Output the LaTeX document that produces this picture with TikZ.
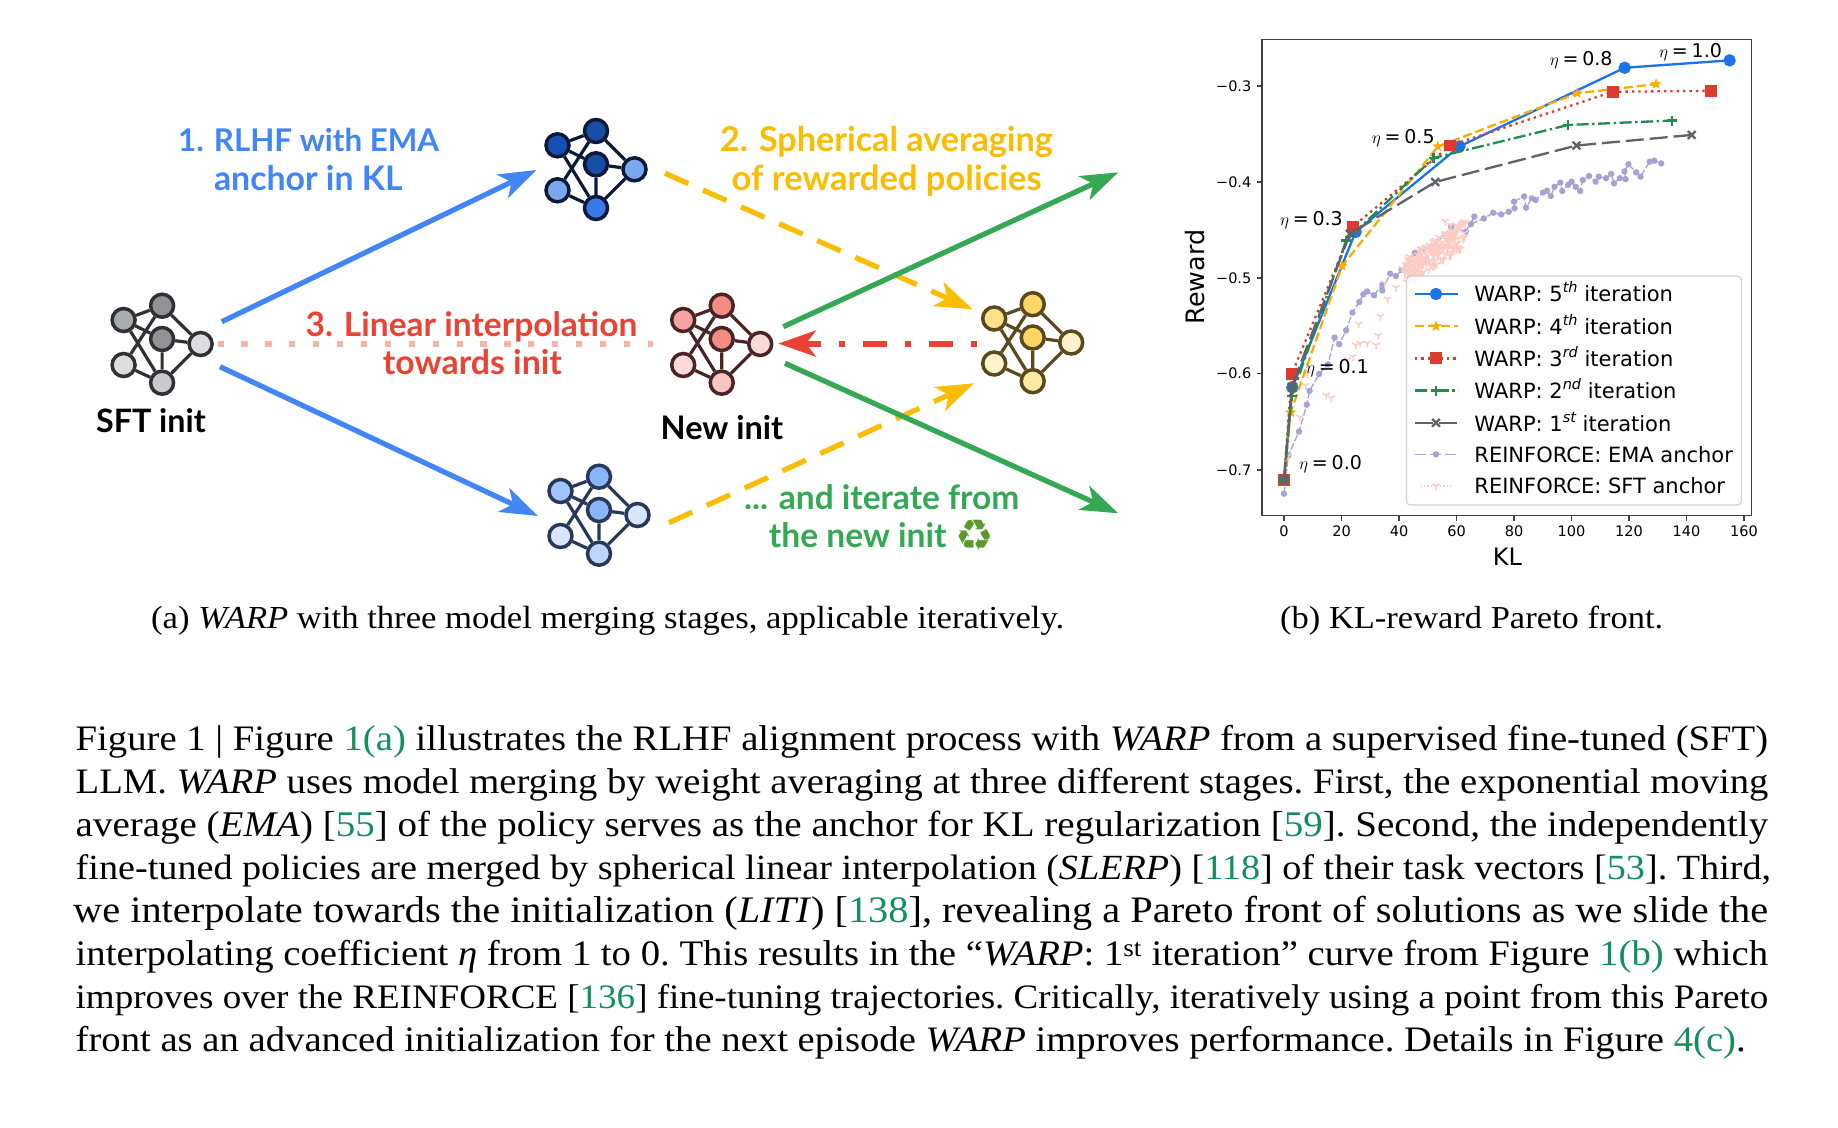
\documentclass[tikz,border=0pt]{standalone}
\usepackage{fontspec}
\usepackage{graphicx}
\usetikzlibrary{arrows.meta,plotmarks}
\setmainfont{Liberation Serif}[FakeStretch=1.08]
\newfontfamily\labelfont{Lato}[UprightFont=* Bold]
\newfontfamily\plotfont{DejaVu Sans}
\newfontfamily\recyclefont{DejaVu Sans}

\definecolor{gblue}{HTML}{4285F4}
\definecolor{gred}{HTML}{EA4335}
\definecolor{gyellow}{HTML}{FBBC04}
\definecolor{ggreen}{HTML}{34A853}
\definecolor{gpink}{HTML}{F7B2AD}
\definecolor{recyclegreen}{HTML}{5A9A2B}
\definecolor{citegreen}{HTML}{12905A}
\definecolor{curvefive}{HTML}{1A73E8}
\definecolor{curvefour}{HTML}{F9AB00}
\definecolor{curvethree}{HTML}{DD3B30}
\definecolor{curvetwo}{HTML}{1E8E4E}
\definecolor{curveone}{HTML}{5F6368}
\definecolor{emacurve}{HTML}{A5A3D6}
\definecolor{sftcurve}{HTML}{FBCBC4}

% network palettes: outline, then the four unit tints
\definecolor{sftS}{HTML}{303134}\definecolor{sftA}{HTML}{A9ABAE}\definecolor{sftB}{HTML}{909396}\definecolor{sftC}{HTML}{DCDDDF}\definecolor{sftD}{HTML}{C9CACD}
\definecolor{emaS}{HTML}{0C1A38}\definecolor{emaA}{HTML}{1550B5}\definecolor{emaB}{HTML}{174EA6}\definecolor{emaC}{HTML}{7BA7EF}\definecolor{emaD}{HTML}{3B78E7}
\definecolor{polS}{HTML}{28385A}\definecolor{polA}{HTML}{A3C4FB}\definecolor{polB}{HTML}{8AB4F8}\definecolor{polC}{HTML}{D7E6FD}\definecolor{polD}{HTML}{BDD4FB}
\definecolor{newS}{HTML}{4A2325}\definecolor{newA}{HTML}{F4A5A1}\definecolor{newB}{HTML}{F28B82}\definecolor{newC}{HTML}{FAD9D6}\definecolor{newD}{HTML}{F9C5C1}
\definecolor{avgS}{HTML}{5A4A1B}\definecolor{avgA}{HTML}{FDE08A}\definecolor{avgB}{HTML}{FDD663}\definecolor{avgC}{HTML}{FEF2CD}\definecolor{avgD}{HTML}{FEE8A8}

\pgfdeclareplotmark{fstar}{%
  \pgfpathmoveto{\pgfpointpolar{90}{\pgfplotmarksize}}%
  \pgfpathlineto{\pgfpointpolar{126}{.42\pgfplotmarksize}}%
  \pgfpathlineto{\pgfpointpolar{162}{\pgfplotmarksize}}%
  \pgfpathlineto{\pgfpointpolar{198}{.42\pgfplotmarksize}}%
  \pgfpathlineto{\pgfpointpolar{234}{\pgfplotmarksize}}%
  \pgfpathlineto{\pgfpointpolar{270}{.42\pgfplotmarksize}}%
  \pgfpathlineto{\pgfpointpolar{306}{\pgfplotmarksize}}%
  \pgfpathlineto{\pgfpointpolar{342}{.42\pgfplotmarksize}}%
  \pgfpathlineto{\pgfpointpolar{18}{\pgfplotmarksize}}%
  \pgfpathlineto{\pgfpointpolar{54}{.42\pgfplotmarksize}}%
  \pgfpathclose\pgfusepathqfillstroke}

\tikzset{
  neuron/.style={circle,inner sep=0pt,minimum size=23pt,line width=3.5pt},
  synapse/.style={line width=3.2pt},
  flow/.style={line width=5.2pt,-{Stealth[length=37.5pt,width=26pt,inset=10pt]}},
  stagelabel/.style={anchor=base,inner sep=0pt,font=\labelfont\fontsize{32}{36}\selectfont},
  capline/.style={anchor=base west,inner sep=0pt,font=\fontsize{36.5}{43}\selectfont\frenchspacing},
  subcap/.style={anchor=base west,inner sep=0pt,font=\fontsize{33}{40}\selectfont\frenchspacing},
  ticktext/.style={inner sep=0pt,font=\plotfont\fontsize{14.5}{16}\selectfont},
  etatext/.style={anchor=base west,inner sep=0pt,font=\plotfont\fontsize{19}{22}\selectfont},
  legtext/.style={anchor=base west,inner sep=0pt,font=\plotfont\fontsize{21}{24}\selectfont},
  axistext/.style={inner sep=0pt,font=\plotfont\fontsize{24}{26}\selectfont},
  curveA/.style={curvefive,line width=2.3pt,mark=*,mark size=5pt,mark options={solid,fill=curvefive}},
  curveB/.style={curvefour,line width=2.3pt,dash pattern=on 9pt off 4pt,mark=fstar,mark size=5.2pt,mark options={solid,fill=curvefour,line width=.4pt}},
  curveC/.style={curvethree,line width=2.3pt,dash pattern=on 2.4pt off 4pt,mark=square*,mark size=4.8pt,mark options={solid,fill=curvethree}},
  curveD/.style={curvetwo,line width=2.3pt,dash pattern=on 12pt off 3.5pt on 2.5pt off 3.5pt,mark=+,mark size=5pt,mark options={solid}},
  curveE/.style={curveone,line width=2.3pt,dash pattern=on 18pt off 6pt,mark=x,mark size=5.5pt,mark options={solid}},
  curveF/.style={emacurve,line width=1.3pt,dash pattern=on 7pt off 2pt,mark=*,mark size=2.5pt,mark options={solid,fill=emacurve}},
  curveG/.style={sftcurve,line width=1.2pt,mark=Mercedes star flipped,mark size=4.2pt,mark options={solid,line width=1.5pt}},
}

% six-unit network: name, centre, outline colour, unit fills
\newcommand{\neuralnet}[8]{%
  \begin{scope}[shift={(#2,#3)}]
    \node[neuron,draw=#4,fill=#5] (#1lu) at (-38.5,-19) {};
    \node[neuron,draw=#4,fill=#6] (#1top) at (0,-33.3) {};
    \node[neuron,draw=#4,fill=#6] (#1mid) at (0,0) {};
    \node[neuron,draw=#4,fill=#7] (#1r) at (38.5,5) {};
    \node[neuron,draw=#4,fill=#7] (#1ll) at (-38.5,26) {};
    \node[neuron,draw=#4,fill=#8] (#1bot) at (0,43.7) {};
    \draw[synapse,#4] (#1lu)--(#1top) (#1lu)--(#1mid) (#1lu)--(#1bot)
      (#1top)--(#1ll) (#1top)--(#1r) (#1mid)--(#1r) (#1mid)--(#1bot)
      (#1bot)--(#1r) (#1ll)--(#1bot);
  \end{scope}}
\newcommand{\fitw}[2]{\resizebox{#1pt}{!}{#2}}
\newcommand{\refc}[1]{\textcolor{citegreen}{#1}}
\newcommand{\upth}[1]{\raisebox{.42em}{\fontsize{14.5}{15}\selectfont\itshape #1}}
\newcommand{\etaeq}[1]{$\eta$\kern.2em=\kern.2em#1}

\begin{document}
\begin{tikzpicture}[x=1pt,y=-1pt]
\useasboundingbox (0,0) rectangle (1838,1127);
\fill[white] (0,0) rectangle (1838,1127);

% networks
\neuralnet{sft}{162.1}{339}{sftS}{sftA}{sftB}{sftC}{sftD}
\neuralnet{ema}{596}{164.3}{emaS}{emaA}{emaB}{emaC}{emaD}
\neuralnet{pol}{599}{510}{polS}{polA}{polB}{polC}{polD}
\neuralnet{new}{721.7}{339}{newS}{newA}{newB}{newC}{newD}
\neuralnet{avg}{1032.7}{337.5}{avgS}{avgA}{avgB}{avgC}{avgD}

% connector end points
\coordinate (up1s) at (221.8,321.7);  \coordinate (up1e) at (536.4,170);
\coordinate (dn1s) at (220,366.7);    \coordinate (dn1e) at (537.9,516);
\coordinate (up2s) at (665,173.3);    \coordinate (up2e) at (972.7,309.3);
\coordinate (dn2s) at (669,522.7);    \coordinate (dn2e) at (974,383.3);
\coordinate (lin1s) at (217.5,344.3); \coordinate (lin1e) at (653.3,344.3);
\coordinate (lin2s) at (976.7,343.6); \coordinate (lin2e) at (778.3,343.6);
\coordinate (up3s) at (783.3,326.7);  \coordinate (up3e) at (1118.3,172.3);
\coordinate (dn3s) at (785,363.3);    \coordinate (dn3e) at (1118.3,513.3);

\draw[gpink,line width=6.2pt,dash pattern=on 6.2pt off 17.7pt] (lin1s)--(lin1e);
\draw[flow,gblue] (up1s)--(up1e);
\draw[flow,gblue] (dn1s)--(dn1e);
\draw[flow,gyellow,dash pattern=on 25.6pt off 16pt] (up2s)--(up2e);
\draw[flow,gyellow,dash pattern=on 25.6pt off 16pt] (dn2s)--(dn2e);
\draw[flow,gred,line width=6pt,dash pattern=on 6pt off 18pt on 24pt off 17.7pt] (lin2s)--(lin2e);
\draw[flow,ggreen] (up3s)--(up3e);
\draw[flow,ggreen] (dn3s)--(dn3e);

% stage labels
\node[stagelabel,gblue] (t1a) at (308.6,151.5) {\fitw{260.8}{1. RLHF with EMA}};
\node[stagelabel,gblue] (t1b) at (308.3,190) {\fitw{188.5}{anchor in KL}};
\node[stagelabel,gyellow] (t2a) at (886.4,151.5) {\fitw{332.7}{2. Spherical averaging}};
\node[stagelabel,gyellow] (t2b) at (886.7,190) {\fitw{310}{of rewarded policies}};
\node[stagelabel,gred] (t3a) at (471.5,336.5) {\fitw{331.6}{3. Linear interpolation}};
\node[stagelabel,gred] (t3b) at (472.5,374.5) {\fitw{179}{towards init}};
\node[stagelabel,ggreen] (t4a) at (881.7,509) {\fitw{275.3}{... and iterate from}};
\node[stagelabel,ggreen] (t4b) at (857.8,547) {\fitw{177.7}{the new init}};
\node[inner sep=0pt,text=recyclegreen] (t4c) at (975.2,535.5) {\recyclefont\fontsize{43}{43}\selectfont ♻};
\node[stagelabel,black] (tsft) at (150.9,432.5) {\fitw{109.7}{SFT init}};
\node[stagelabel,black] (tnew) at (722,439) {\fitw{122.6}{New init}};

% KL-reward axes: data coordinates are (KL, reward)
\begin{scope}[shift={(1284,-202)},x=2.875pt,y=960pt]
  \draw[curveF] plot coordinates {(0,-.7247)(1.5,-.685)(5.2,-.66)(7.9,-.632)(8.9,-.6175)(12.2,-.6)(15.3,-.59)(17.6,-.562)(19.2,-.569)(21.6,-.5545)(23.8,-.536)(26.2,-.525)(27.6,-.517)(28.9,-.514)(31.3,-.518)(34.2,-.507)(34.2,-.513)(36.9,-.4955)(38.9,-.498)(40.9,-.4917)(45.5,-.474)(52.2,-.467)(58.2,-.4465)(63.2,-.4517)(66.2,-.436)(65,-.444)(69.5,-.438)(72.8,-.432)(75.5,-.4337)(78.2,-.431)(80.2,-.4274)(80,-.4205)(83.5,-.415)(84.2,-.4267)(86.2,-.417)(87.5,-.4188)(90.1,-.411)(91.5,-.409)(92.8,-.4146)(94.1,-.405)(96.1,-.4007)(96.8,-.4094)(98.8,-.403)(100,-.3997)(101.5,-.405)(103,-.4094)(103.9,-.398)(106.1,-.3938)(108.4,-.3997)(109.5,-.3944)(112,-.396)(113.8,-.3917)(114.8,-.4014)(116.8,-.396)(118.8,-.397)(118.4,-.389)(119.8,-.3816)(122.5,-.39)(124,-.3944)(127.2,-.3788)(128.8,-.3778)(131.2,-.3806)};
  \pgfmathsetseed{412}
  \foreach \i in {1,...,170}{
    \pgfmathsetmacro\kk{42+21*rnd}
    \pgfmathsetmacro\rr{-0.512+(\kk-40)*0.0019+0.028*rnd}
    \draw[curveG,only marks] plot coordinates {(\kk,\rr)};
  }
  \draw[curveG,only marks] plot coordinates {(1.5,-.685)(5.5,-.645)(7.6,-.612)(8,-.6)(14.7,-.622)(16.5,-.625)(22,-.585)(24,-.582)(25,-.57)(26,-.548)(26.5,-.568)(29,-.568)(32,-.57)(33.5,-.54)(32.8,-.56)(36,-.522)(35,-.505)(39,-.51)(41,-.49)(44,-.497)(56,-.441)(58,-.445)};

  \draw[curveA] plot coordinates {(0,-.71)(2.9,-.614)(24.9,-.452)(61,-.363)(118.5,-.281)(155,-.2733)};
  \draw[curveB] plot coordinates {(0,-.71)(2.3,-.64)(20.2,-.4875)(53.5,-.363)(102,-.3076)(129.4,-.298)};
  \draw[curveC] plot coordinates {(0,-.71)(2.7,-.6)(24,-.4465)(57.8,-.362)(114.4,-.306)(148.5,-.305)};
  \draw[curveD] plot coordinates {(0,-.71)(2.7,-.623)(21.6,-.461)(52,-.375)(98.8,-.3406)(135,-.336)};
  \draw[curveE] plot coordinates {(0,-.71)(2.7,-.6135)(22.9,-.454)(52.6,-.4)(101.7,-.362)(141.8,-.351)};
\end{scope}

% frame and ticks
\draw[black!75,line width=1.5pt] (1261.8,39.3) rectangle (1751.7,515.7);
\foreach \v/\lab in {0/0,20/20,40/40,60/60,80/80,100/100,120/120,140/140,160/160}{
  \draw[black!75,line width=1.3pt] (1284+2.875*\v,515.7)--++(0,5);
  \node[ticktext,anchor=base] (xt\v) at (1284+2.875*\v,536.7) {\lab};
}
\foreach \v/\lab in {86/3,182/4,278/5,373.7/6,470/7}{
  \draw[black!75,line width=1.3pt] (1261.8,\v)--++(-5,0);
  \node[ticktext,anchor=east] (yt\lab) at (1251.5,\v) {−0.\lab};
}
\node[axistext,anchor=base] (kl) at (1507.5,565) {KL};
\node[axistext,anchor=base,rotate=90,font=\plotfont\fontsize{25.4}{27}\selectfont] (rw) at (1204,277) {Reward};

% eta annotations
\node[etatext] (e10) at (1659,57) {\etaeq{1.0}};
\node[etatext] (e08) at (1549.6,65.7) {\etaeq{0.8}};
\node[etatext] (e05) at (1371.7,143.3) {\etaeq{0.5}};
\node[etatext] (e03) at (1279.8,225) {\etaeq{0.3}};
\node[etatext] (e01) at (1305.9,373.3) {\etaeq{0.1}};
\node[etatext] (e00) at (1299,469) {\etaeq{0.0}};

% legend
\draw[fill=white,fill opacity=.8,draw=black!18,line width=1.2pt,rounded corners=4pt] (1406.5,276) rectangle (1741.4,505);
\draw[curveA,mark indices={2}] plot coordinates {(1415,294)(1436,294)(1458,294)};
\draw[curveB,mark indices={2}] plot coordinates {(1415,326.2)(1436,326.2)(1458,326.2)};
\draw[curveC,mark indices={2}] plot coordinates {(1415,358.4)(1436,358.4)(1458,358.4)};
\draw[curveD,mark indices={2}] plot coordinates {(1415,390.6)(1436,390.6)(1458,390.6)};
\draw[curveE,mark indices={2}] plot coordinates {(1415,422.8)(1436,422.8)(1458,422.8)};
\draw[curveF,mark indices={2},dash pattern=on 11pt off 4pt] plot coordinates {(1415,454.3)(1436,454.3)(1458,454.3)};
\draw[curveG,mark indices={2},dotted] plot coordinates {(1421,486)(1436,486)(1451,486)};
\node[legtext] (l5) at (1474.2,301.7) {WARP: 5\upth{th} iteration};
\node[legtext] (l4) at (1474.2,334.3) {WARP: 4\upth{th} iteration};
\node[legtext] (l3) at (1474.2,366.7) {WARP: 3\upth{rd} iteration};
\node[legtext] (l2) at (1474.2,398.7) {WARP: 2\upth{nd} iteration};
\node[legtext] (l1) at (1474.2,431) {WARP: 1\upth{st} iteration};
\node[legtext] (l6) at (1474.2,462.7) {REINFORCE: EMA anchor};
\node[legtext] (l7) at (1474.2,493.7) {REINFORCE: SFT anchor};

% sub-captions
\node[subcap] (capa) at (151,628.5) {\fitw{913}{(a) \textit{WARP} with three model merging stages, applicable iteratively.}};
\node[subcap] (capb) at (1280,628.5) {\fitw{383}{(b) KL-reward Pareto front.}};

% figure caption, each line scaled to its column width
\node[capline] (p1) at (75.5,750.5) {\fitw{1692.5}{Figure 1 | Figure \refc{1(a)} illustrates the RLHF alignment process with \textit{WARP} from a supervised fine-tuned (SFT)}};
\node[capline] (p2) at (75.5,793.5) {\fitw{1692.5}{LLM. \textit{WARP} uses model merging by weight averaging at three different stages. First, the exponential moving}};
\node[capline] (p3) at (75.5,836.5) {\fitw{1692.5}{average (\textit{EMA}) [\refc{55}] of the policy serves as the anchor for KL regularization [\refc{59}]. Second, the independently}};
\node[capline] (p4) at (75.5,879.5) {\fitw{1695.5}{fine-tuned policies are merged by spherical linear interpolation (\textit{SLERP}) [\refc{118}] of their task vectors [\refc{53}]. Third,}};
\node[capline] (p5) at (73,922.5) {\fitw{1695}{we interpolate towards the initialization (\textit{LITI}) [\refc{138}], revealing a Pareto front of solutions as we slide the}};
\node[capline] (p6) at (75.5,965.5) {\fitw{1692.5}{interpolating coefficient \textit{η} from 1 to 0. This results in the “\textit{WARP}: 1\textsuperscript{st} iteration” curve from Figure \refc{1(b)} which}};
\node[capline] (p7) at (75.5,1008.5) {\fitw{1692.5}{improves over the REINFORCE [\refc{136}] fine-tuning trajectories. Critically, iteratively using a point from this Pareto}};
\node[capline] (p8) at (75.5,1051.5) {\fitw{1670}{front as an advanced initialization for the next episode \textit{WARP} improves performance. Details in Figure \refc{4(c)}.}};
\end{tikzpicture}
\end{document}
